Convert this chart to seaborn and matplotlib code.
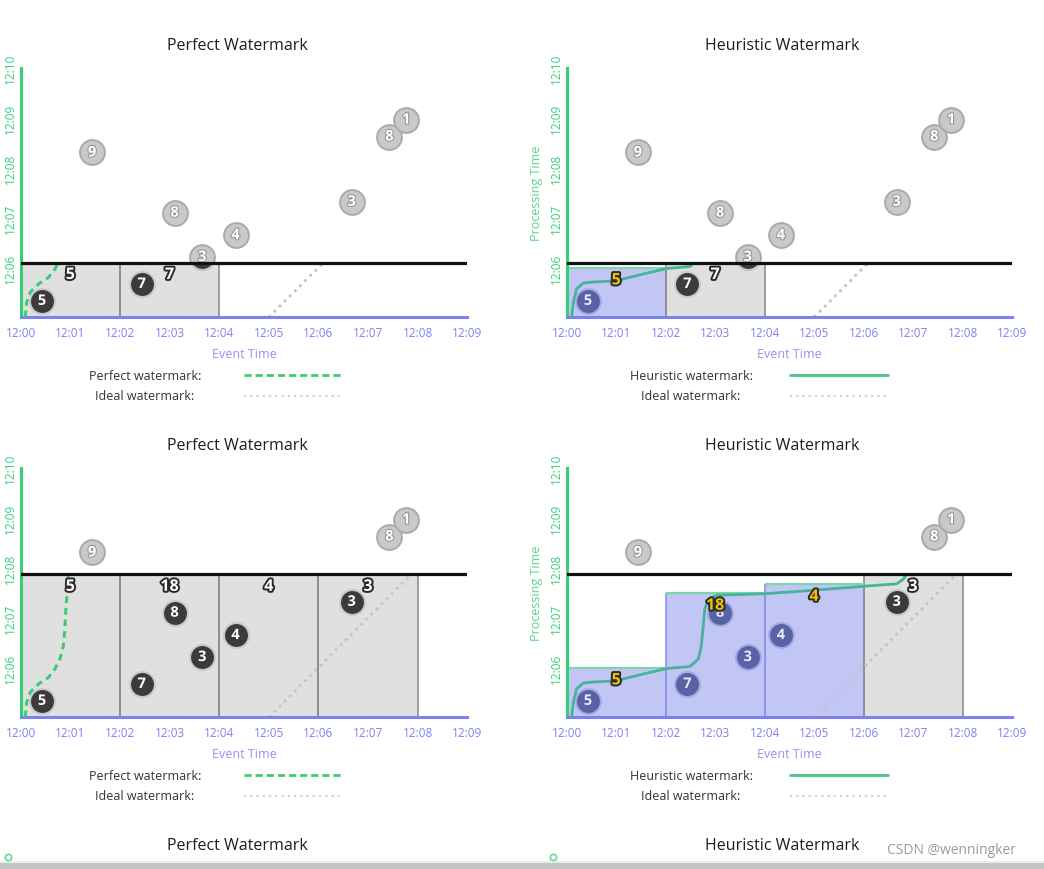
import matplotlib
matplotlib.use("Agg")
import matplotlib.pyplot as plt
import matplotlib.patheffects as pe
from matplotlib.patches import Rectangle
from matplotlib.lines import Line2D
import pandas as pd
import seaborn as sns

# minutes after 12:00
event_time = [0.43, 2.44, 3.10, 3.66, 4.33, 6.67, 1.44, 7.43, 7.77]
proc_time = [5.33, 5.67, 7.10, 6.21, 6.65, 7.32, 8.31, 8.63, 8.97]
score = [5, 7, 8, 3, 4, 3, 9, 8, 1]

window_start = [0, 2, 4, 6]
window_len = 2
heuristic_fire = [5.99, 7.49, 7.67, None]

perfect_wm_event = [0.09, 0.12, 0.19, 0.36, 0.56, 0.69, 0.79, 0.86, 0.89, 0.91, 0.94, 0.96]
perfect_wm_proc = [5.00, 5.30, 5.50, 5.67, 5.80, 5.97, 6.17, 6.43, 6.77, 7.17, 7.57, 7.87]

heur_wm_event = [0.10, 0.135, 0.20, 0.335, 0.54, 0.98, 1.55, 2.02, 2.49, 2.66, 2.72,
                 2.76, 2.79, 2.86, 3.03, 3.97, 4.71, 5.99, 6.67, 6.80, 6.87]
heur_wm_proc = [5.00, 5.30, 5.57, 5.69, 5.71, 5.73, 5.87, 5.98, 6.02, 6.17, 6.43,
                6.83, 7.17, 7.37, 7.45, 7.48, 7.53, 7.63, 7.68, 7.77, 7.87]

ideal_wm_event = [5, 10]
ideal_wm_proc = [5, 10]

x_ticks = list(range(10))
x_labels = [f"12:{m:02d}" for m in range(10)]
y_ticks = [6, 7, 8, 9, 10]
y_labels = ["12:06", "12:07", "12:08", "12:09", "12:10"]

# (title, kind, processing-time "now", row, col)
panels = [
    ("Perfect Watermark", "perfect", 6.10, 0, 0),
    ("Heuristic Watermark", "heuristic", 6.10, 0, 1),
    ("Perfect Watermark", "perfect", 7.87, 1, 0),
    ("Heuristic Watermark", "heuristic", 7.87, 1, 1),
]

X_COL = "#7d81f0"
Y_COL = "#35cf78"
GRAY_WIN = "#e0e0e0"
GRAY_EDGE = "#8e8e8e"
BLUE_WIN = "#c2c6f5"
BLUE_EDGE = "#8c92ee"
TOP_GREEN = "#7ed6a6"
WM_GREEN = "#3ccc74"
HEUR_COL = "#45b49a"
IDEAL_COL = "#c4c4c4"

sns.set_theme(style="white")
plt.rcParams['font.family'] = ['Open Sans', 'DejaVu Sans']

W, H = 1044, 870
fig = plt.figure(figsize=(W / 100, H / 100), dpi=100)


def fx(px):
    return px / W


def fy(py):
    return 1 - py / H


ax_left = {0: 20.7, 1: 566.7}
ax_width = {0: 446.6, 1: 445.3}
ax_top = {0: 69.3, 1: 469.3}
ax_h = 249.0

circle_style = {
    "future": dict(fc="#c9c9c9", ec="#aaaaaa", txt="white", stroke="#999999"),
    "seen": dict(fc="#3b3b3b", ec="#c8c8c8", txt="white", stroke="#3b3b3b"),
    "fired": dict(fc="#5a62a6", ec="#a4a8e2", txt="#e8e9ff", stroke="#5a62a6"),
}


def draw_panel(ax, kind, now):
    df = pd.DataFrame({"event": event_time, "proc": proc_time, "score": score})
    df["win"] = (df["event"] // window_len).astype(int)
    fire = heuristic_fire if kind == "heuristic" else [None] * len(window_start)

    def fired_at(w):
        w = int(w)
        if w >= len(fire) or fire[w] is None or fire[w] > now:
            return None
        return fire[w]

    states = []
    for ev, pr, w in zip(df["event"], df["proc"], df["win"]):
        f = fired_at(w)
        if pr > now:
            states.append("future")
        elif f is not None and pr <= f:
            states.append("fired")
        else:
            states.append("seen")
    df["state"] = states

    below = Rectangle((0, 5), 9, now - 5, transform=ax.transData)

    # windows
    for i, ws in enumerate(window_start):
        seen = df[(df["win"] == i) & (df["proc"] <= now)]
        if seen.empty:
            continue
        f = fired_at(i)
        top = f if f is not None else now
        fc = BLUE_WIN if f is not None else GRAY_WIN
        ec = BLUE_EDGE if f is not None else GRAY_EDGE
        ax.add_patch(Rectangle((ws, 5), window_len, top - 5, fc=fc, ec="none", zorder=1))
        ax.vlines([ws, ws + window_len], 5, top, color=ec, lw=1.2, zorder=1.5)
        if f is not None:
            ax.hlines(top, ws, ws + window_len, color=TOP_GREEN, lw=1.6, zorder=1.6)
        total = int(seen.loc[seen["proc"] <= top, "score"].sum())
        ax.text(ws + window_len / 2, top - 0.25, str(total), ha="center", va="center",
                fontsize=11.5, fontweight="bold",
                color="#f2c200" if f is not None else "white", zorder=8,
                path_effects=[pe.withStroke(linewidth=2.8, foreground="#2a2a2a")])

    # ideal watermark
    sns.lineplot(x=ideal_wm_event, y=ideal_wm_proc, ax=ax, color=IDEAL_COL, lw=2,
                 linestyle=(0, (1, 1.6)), sort=False, estimator=None, zorder=2)
    ax.lines[-1].set_clip_path(below)

    # watermark curve
    if kind == "perfect":
        sns.lineplot(x=perfect_wm_event, y=perfect_wm_proc, ax=ax, color=WM_GREEN, lw=2.2,
                     linestyle=(0, (2.2, 1.6)), sort=False, estimator=None, zorder=3)
    else:
        sns.lineplot(x=heur_wm_event, y=heur_wm_proc, ax=ax, color=HEUR_COL, lw=2.0,
                     sort=False, estimator=None, zorder=3)
    ax.lines[-1].set_clip_path(below)

    # data circles
    for st, sty in circle_style.items():
        sub = df[df["state"] == st]
        if sub.empty:
            continue
        sns.scatterplot(data=sub, x="event", y="proc", ax=ax, s=320, color=sty["fc"],
                        edgecolor=sty["ec"], linewidth=1.4, legend=False, zorder=4)
    # circles crossing the "now" line: dark below, grey above
    part = df[(df["proc"] > now) & (df["proc"] - 0.22 < now)]
    if not part.empty:
        sty = circle_style["seen"]
        sns.scatterplot(data=part, x="event", y="proc", ax=ax, s=320, color=sty["fc"],
                        edgecolor=sty["ec"], linewidth=1.4, legend=False, zorder=4.5)
        ax.collections[-1].set_clip_path(below)

    for ev, pr, sc, st in zip(df["event"], df["proc"], df["score"], df["state"]):
        sty = circle_style[st]
        ax.text(ev, pr, str(sc), ha="center", va="center",
                fontsize=10.5, fontweight="bold", color=sty["txt"], zorder=5,
                path_effects=[pe.withStroke(linewidth=1.6, foreground=sty["stroke"])])

    # processing-time "now" line
    ax.axhline(now, color="#111111", lw=2.3, zorder=6)

    ax.set_xlim(0, 9)
    ax.set_ylim(5, 10)
    ax.set_xticks(x_ticks, x_labels)
    ax.set_yticks(y_ticks, y_labels, rotation=90, va="center")
    ax.tick_params(axis="x", colors=X_COL, direction="in", length=5, width=1.2,
                   labelsize=8.5, pad=6)
    ax.tick_params(axis="y", colors=Y_COL, direction="in", length=5, width=1.2,
                   labelsize=8.5, pad=3)
    for s in ("top", "right"):
        ax.spines[s].set_visible(False)
    ax.spines["bottom"].set_color(X_COL)
    ax.spines["bottom"].set_linewidth(2.2)
    ax.spines["left"].set_color(Y_COL)
    ax.spines["left"].set_linewidth(2.2)
    ax.set_xlabel("Event Time", color="#8f93ef", fontsize=9, labelpad=6)
    ax.set_facecolor("white")


for title, kind, now, row, col in panels:
    ax = fig.add_axes([fx(ax_left[col]), fy(ax_top[row] + ax_h),
                       fx(ax_width[col]), ax_h / H])
    draw_panel(ax, kind, now)
    if kind == "heuristic":
        ax.set_ylabel("Processing Time", color="#5ad08e", fontsize=9, labelpad=5)
    else:
        ax.set_ylabel("")

    # title
    tx = 237 if col == 0 else 782
    fig.text(fx(tx), fy(ax_top[row] - 23), title, ha="center", va="center",
             fontsize=11.5, color="#1e1e1e")

    # legend
    ly = ax_top[row] + 306.7
    cx = 145 if col == 0 else 691
    l0, l1 = (244, 344) if col == 0 else (790, 888)
    name = "Perfect watermark:" if kind == "perfect" else "Heuristic watermark:"
    fig.text(fx(cx), fy(ly), name, ha="center", va="center", fontsize=9, color="#333333")
    fig.text(fx(cx), fy(ly + 20.5), "Ideal watermark:", ha="center", va="center",
             fontsize=9, color="#333333")
    if kind == "perfect":
        fig.add_artist(Line2D([fx(l0), fx(l1)], [fy(ly), fy(ly)], color=WM_GREEN, lw=2.0,
                              linestyle=(0, (2.6, 1.4)), transform=fig.transFigure))
    else:
        fig.add_artist(Line2D([fx(l0), fx(l1)], [fy(ly), fy(ly)], color="#45c585", lw=2.0,
                              transform=fig.transFigure))
    fig.add_artist(Line2D([fx(l0), fx(l1)], [fy(ly + 20.5), fy(ly + 20.5)], color="#cfcfcf",
                          lw=1.5, linestyle=(0, (1, 2)), transform=fig.transFigure))

# next row (cut off at the bottom of the screenshot)
fig.text(fx(237), fy(846), "Perfect Watermark", ha="center", va="center",
         fontsize=11.5, color="#1e1e1e")
fig.text(fx(782), fy(846), "Heuristic Watermark", ha="center", va="center",
         fontsize=11.5, color="#1e1e1e")
for px in (8, 553):
    fig.add_artist(Line2D([fx(px)], [fy(858)], marker="o", ms=4.5, mfc="white",
                          mec="#6fdc9c", mew=1.3, transform=fig.transFigure))
fig.add_artist(Rectangle((0, 0), 1, 6 / H, fc="#c4c4c4", ec="none",
                         transform=fig.transFigure))
fig.add_artist(Rectangle((0, 6 / H), 1, 2 / H, fc="#ececec", ec="none",
                         transform=fig.transFigure))
fig.text(fx(887), fy(851), "CSDN @wenningker", ha="left", va="center",
         fontsize=10, color="#9a9a9a")

fig.savefig("out.png", dpi=100)
